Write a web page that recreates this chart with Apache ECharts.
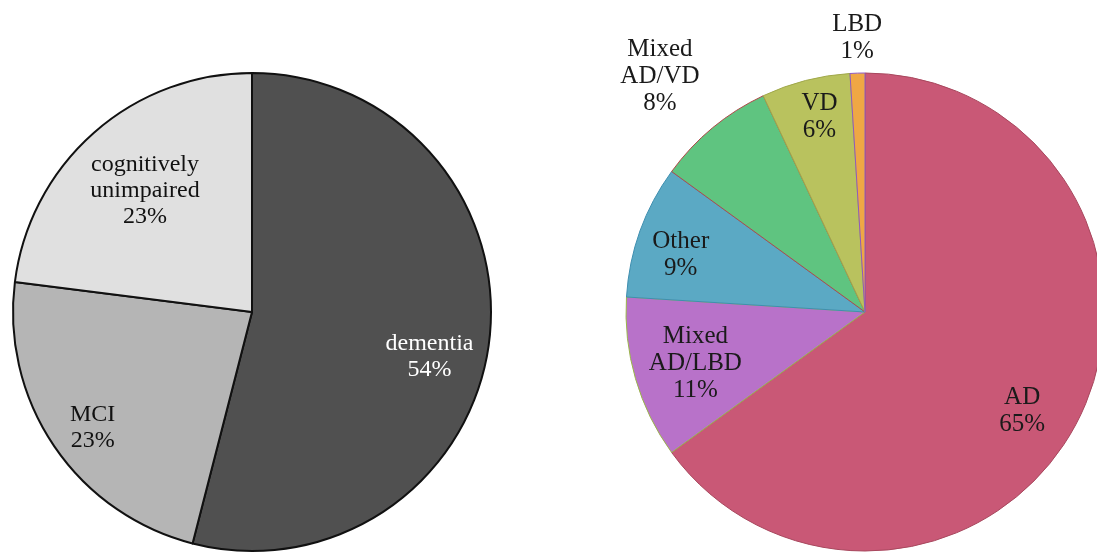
<!DOCTYPE html>
<html>
<head>
<meta charset="utf-8">
<script src="https://cdn.jsdelivr.net/npm/echarts@6/dist/echarts.min.js"></script>
<style>
  html, body { margin: 0; padding: 0; background: #fff; }
  #chart { width: 1097px; height: 552px; }
</style>
</head>
<body>
<div id="chart"></div>
<script>
// left pie: cognitive status
var statusNames = ['dementia', 'MCI', 'cognitively\nunimpaired'];
var statusValues = [54, 23, 23];
var statusColors = ['#505050', '#b5b5b5', '#e0e0e0'];
var statusTextColors = ['#ffffff', '#111111', '#111111'];
// nudge of each label from the slice middle
var statusLabelShift = [[56, 29], [-58, 47], [-26, -29]];

// right pie: diagnosis
var diagNames = ['AD', 'Mixed\nAD/LBD', 'Other', 'Mixed\nAD/VD', 'VD', 'LBD'];
var diagValues = [65, 11, 9, 8, 6, 1];
var diagColors = ['#c95876', '#b872c9', '#5ba9c4', '#5fc480', '#b9c25e', '#efa744'];
var diagBorders = ['#a8485e', '#9ab54a', '#3f8fb0', '#b04a4a', '#a0a84a', '#8e5ac0'];
var diagLabelShift = [[48, 43], [-52, 17], [-69, -16], [-127, -141], [-15, -76], [-4, -152]];

var font = "'Liberation Serif', 'Times New Roman', serif";

function buildData(names, values, colors, borders, textColors, borderWidth) {
  return names.map(function (n, i) {
    return {
      name: n,
      value: values[i],
      itemStyle: { color: colors[i], borderColor: borders[i], borderWidth: borderWidth },
      label: { color: textColors[i] }
    };
  });
}

function shiftLayout(shifts) {
  return function (params) {
    var s = shifts[params.dataIndex];
    return { dx: s[0], dy: s[1] };
  };
}

var chart = echarts.init(document.getElementById('chart'));
var option = {
  animation: false,
  backgroundColor: '#ffffff',
  series: [
    {
      type: 'pie',
      center: [252, 312],
      radius: 239,
      startAngle: 90,
      clockwise: true,
      silent: true,
      data: buildData(statusNames, statusValues, statusColors,
        ['#111', '#111', '#111'], statusTextColors, 2),
      label: {
        show: true,
        position: 'inside',
        fontFamily: font,
        fontSize: 24,
        lineHeight: 26,
        align: 'center',
        formatter: function (p) { return p.name + '\n' + p.value + '%'; }
      },
      labelLine: { show: false },
      labelLayout: shiftLayout(statusLabelShift),
      emphasis: { disabled: true }
    },
    {
      type: 'pie',
      center: [865, 312],
      radius: 239,
      startAngle: 90,
      clockwise: true,
      silent: true,
      data: buildData(diagNames, diagValues, diagColors, diagBorders,
        ['#1a1a1a', '#1a1a1a', '#1a1a1a', '#1a1a1a', '#1a1a1a', '#1a1a1a'], 1),
      label: {
        show: true,
        position: 'inside',
        fontFamily: font,
        fontSize: 25,
        lineHeight: 27,
        align: 'center',
        formatter: function (p) { return p.name + '\n' + p.value + '%'; }
      },
      labelLine: { show: false },
      labelLayout: shiftLayout(diagLabelShift),
      emphasis: { disabled: true }
    }
  ]
};
chart.setOption(option);
</script>
</body>
</html>
